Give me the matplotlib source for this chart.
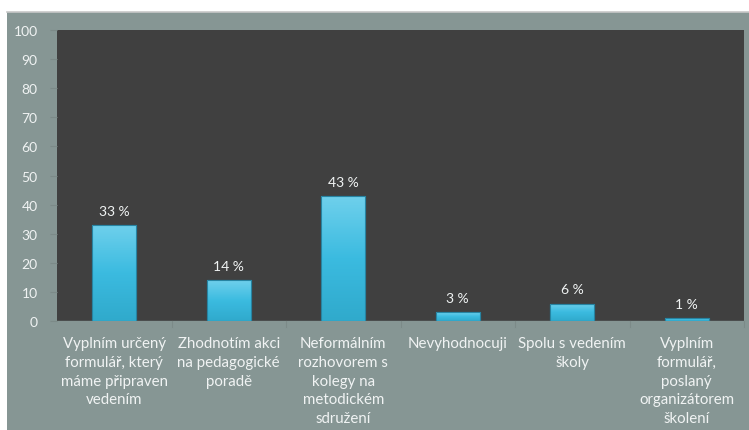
import matplotlib
matplotlib.use("Agg")
import matplotlib.pyplot as plt
from matplotlib.patches import Rectangle
from matplotlib.colors import LinearSegmentedColormap
import numpy as np

categories = [
    "Vyplním určený\nformulář, který\nmáme připraven\nvedením",
    "Zhodnotím akci\nna pedagogické\nporadě",
    "Neformálním\nrozhovorem s\nkolegy na\nmetodickém\nsdružení",
    "Nevyhodnocuji",
    "Spolu s vedením\nškoly",
    "Vyplním\nformulář,\nposlaný\norganizátorem\nškolení",
]
values = [33, 14, 43, 3, 6, 1]
yticks = [0, 10, 20, 30, 40, 50, 60, 70, 80, 90, 100]

W, H = 749, 431
fig = plt.figure(figsize=(W / 100, H / 100), dpi=100, facecolor="white")
plt.rcParams['font.family'] = ['Lato', 'DejaVu Sans']

outer = "#869694"
fig.patches.append(Rectangle((7 / W, 0), 1 - 7 / W, 1 - 13 / H, transform=fig.transFigure,
                             facecolor=outer, edgecolor="none", zorder=-10))
fig.lines.append(plt.Line2D([7 / W, 1], [1 - 13 / H, 1 - 13 / H], transform=fig.transFigure,
                            color="#c8c8c8", lw=1.2, zorder=-9))

left, right, top, bottom = 57, 744, 31, 322
ax = fig.add_axes([left / W, 1 - bottom / H, (right - left) / W, (bottom - top) / H])
ax.set_zorder(1)
ax.set_facecolor("#404040")
x = np.arange(len(values))
bars = ax.bar(x, values, width=0.38, color="#38b6da", edgecolor="#2784a2", linewidth=0.8, zorder=3)
cmap = LinearSegmentedColormap.from_list("bar", ["#6fd0ec", "#3bbbe0", "#30aacc"])
grad = np.linspace(0, 1, 64).reshape(-1, 1)
for b in bars:
    x0, w, h = b.get_x(), b.get_width(), b.get_height()
    im = ax.imshow(grad, cmap=cmap, aspect="auto", extent=(x0, x0 + w, 0, h),
                   origin="upper", zorder=3.5)
    im.set_clip_path(b)
    ax.add_patch(Rectangle((x0, 0), w, h, fill=False, edgecolor="#2784a2", linewidth=0.8, zorder=4))
ax.set_xlim(-0.5, len(values) - 0.5)
ax.set_ylim(0, 100)
ax.set_yticks(yticks)
ax.set_yticklabels([str(t) for t in yticks], color="#f0f3f3", fontsize=10)
ax.tick_params(axis="y", length=5, color="#7c8a88", pad=9)
ax.set_xticks(x)
ax.set_xticklabels(categories, color="#f0f3f3", fontsize=10.8, linespacing=1.42, va="top")
ax.tick_params(axis="x", length=0, pad=11)
for xb in np.arange(-0.5, len(values), 1.0)[1:]:
    ax.plot([xb, xb], [0, -2], color="#7c8a88", lw=0.8, clip_on=False)
for s in ax.spines.values():
    s.set_visible(False)
ax.axhline(0, color="#7c8a88", lw=1, zorder=2)
for xi, v in zip(x, values):
    ax.annotate(f"{v} %", (xi, v), xytext=(0, 6), textcoords="offset points",
                ha="center", va="bottom", color="#f0f3f3", fontsize=10)

fig.savefig("out.png", dpi=100, facecolor=fig.get_facecolor())
